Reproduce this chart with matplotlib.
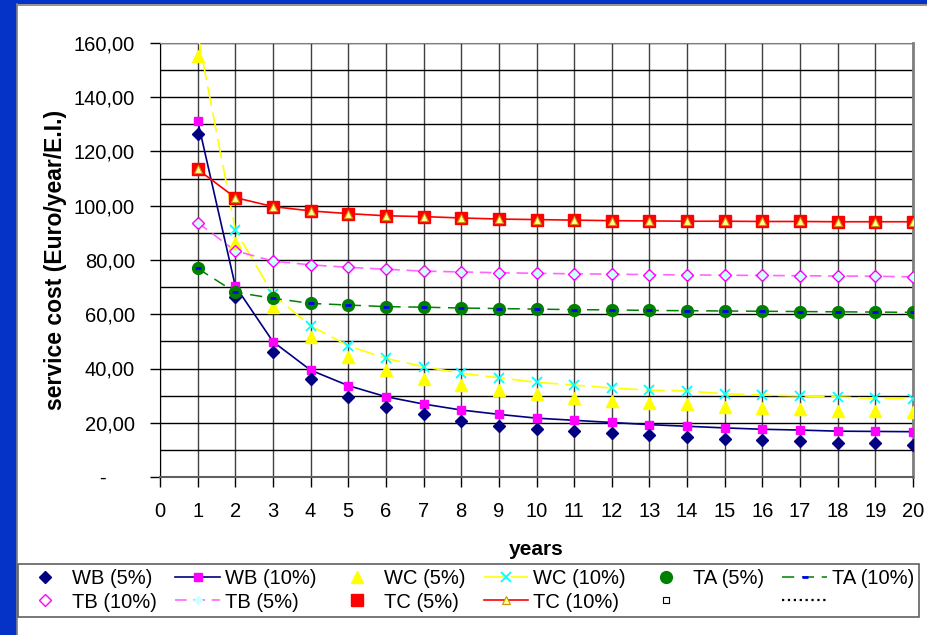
import matplotlib
matplotlib.use("Agg")
import matplotlib.pyplot as plt
from matplotlib.patches import Rectangle
from matplotlib.ticker import FuncFormatter, MultipleLocator

plt.rcParams['font.family'] = ['Liberation Sans', 'DejaVu Sans']

# data
years = list(range(1, 21))
wb5 = [126.6, 66.2, 46.0, 36.0, 29.6, 25.9, 23.2, 20.8, 18.9, 17.7,
       17.0, 16.1, 15.4, 14.6, 14.1, 13.6, 13.1, 12.7, 12.4, 11.9]
wb10 = [131.4, 70.4, 49.9, 39.4, 33.7, 29.6, 26.9, 24.7, 23.1, 21.7,
        20.9, 20.1, 19.3, 18.7, 18.1, 17.6, 17.3, 16.9, 16.8, 16.7]
wc5 = [155.2, 86.4, 62.6, 51.5, 44.4, 39.4, 36.0, 33.9, 32.1, 30.5,
       29.2, 28.1, 27.2, 26.8, 25.9, 25.4, 25.0, 24.5, 24.3, 23.8]
wc10 = [163.3, 91.1, 67.3, 55.7, 48.4, 43.7, 40.7, 38.2, 36.6, 34.9,
        33.9, 32.8, 32.0, 31.7, 30.7, 30.2, 29.9, 29.5, 29.0, 28.9]
ta5 = [76.9, 68.1, 65.9, 64.0, 63.4, 62.8, 62.6, 62.3, 62.1, 61.9,
       61.7, 61.6, 61.4, 61.3, 61.2, 61.1, 61.0, 60.9, 60.8, 60.7]
ta10 = [76.9, 68.1, 65.9, 64.0, 63.4, 62.8, 62.6, 62.3, 62.1, 61.9,
        61.7, 61.6, 61.4, 61.3, 61.2, 61.1, 61.0, 60.9, 60.8, 60.7]
tb10 = [93.8, 83.4, 79.6, 78.2, 77.3, 76.6, 75.9, 75.6, 75.3, 75.1,
        74.9, 74.8, 74.6, 74.5, 74.4, 74.3, 74.2, 74.1, 74.0, 73.8]
tb5 = [93.8, 83.4, 79.6, 78.2, 77.3, 76.6, 75.9, 75.6, 75.3, 75.1,
       74.9, 74.8, 74.6, 74.5, 74.4, 74.3, 74.2, 74.1, 74.0, 73.8]
tc5 = [113.4, 103.0, 99.7, 98.1, 97.1, 96.3, 96.0, 95.5, 95.1, 94.9,
       94.7, 94.5, 94.4, 94.3, 94.3, 94.2, 94.2, 94.1, 94.1, 94.1]
tc10 = [113.4, 103.0, 99.7, 98.1, 97.1, 96.3, 96.0, 95.5, 95.1, 94.9,
        94.7, 94.5, 94.4, 94.3, 94.3, 94.2, 94.2, 94.1, 94.1, 94.1]

W, H = 928, 635
fig = plt.figure(figsize=(W / 100, H / 100), dpi=100)

# blue frame strips on the left and top
blue = '#0533C8'
fig.patches.append(Rectangle((0, 0), 17 / W, 1, transform=fig.transFigure,
                             facecolor=blue, edgecolor='none', zorder=0))
fig.patches.append(Rectangle((0, 1 - 4 / H), 1, 4 / H, transform=fig.transFigure,
                             facecolor=blue, edgecolor='none', zorder=0))
fig.add_artist(plt.Line2D([17 / W, 17 / W], [0, 1 - 4 / H], transform=fig.transFigure,
                          color='#808080', lw=1.2))
fig.add_artist(plt.Line2D([17 / W, 1], [1 - 5 / H, 1 - 5 / H], transform=fig.transFigure,
                          color='#808080', lw=1.2))

ax = fig.add_axes([160 / W, 1 - 477 / H, (913 - 160) / W, (477 - 43) / H])

# 5% series: markers only; 10% series: line + small markers
h_wb5, = ax.plot(years, wb5, ls='none', marker='D', ms=6.5, color='#000080', zorder=5)
h_wb10, = ax.plot(years, wb10, ls='-', lw=1.2, color='#000080', marker='s', ms=5.5,
                  mfc='#FF00FF', mec='#FF00FF', zorder=4)
h_wc5, = ax.plot(years, wc5, ls='none', marker='^', ms=9, color='#FFFF00', zorder=5)
h_wc10, = ax.plot(years, wc10, ls=(0, (12, 4)), lw=1.2, color='#FFFF00', marker='x', ms=7,
                  mec='#00FFFF', mew=1.3, zorder=4)
h_ta5, = ax.plot(years, ta5, ls='none', marker='o', ms=8.5, color='#008000', zorder=5)
h_ta10, = ax.plot(years, ta10, ls=(0, (8, 5)), lw=1.1, color='#008000', marker='_', ms=4,
                  mec='#0000FF', mew=2, zorder=6)
h_tb10, = ax.plot(years, tb10, ls='none', marker='D', ms=6.5, mfc='none', mec='#FF00FF',
                  mew=1, zorder=5)
h_tb5, = ax.plot(years, tb5, ls=(0, (7, 4)), lw=1.2, color='#FF66FF', marker='D', ms=4.5,
                 mfc='#CCFFFF', mec='#CCFFFF', zorder=4)
h_tc5, = ax.plot(years, tc5, ls='none', marker='s', ms=8, color='#FF0000', zorder=5)
h_tc10, = ax.plot(years, tc10, ls='-', lw=1.2, color='#FF0000', marker='^', ms=6,
                  mfc='#FFFF99', mec='#C89600', mew=0.8, zorder=6)
h_empty1, = ax.plot([], [], ls='none', marker='s', ms=4, mfc='white', mec='black', mew=0.8)
h_empty2, = ax.plot([], [], ls=':', lw=1.6, color='black')

ax.set_xlim(0, 20)
ax.set_ylim(0, 160)
ax.set_xticks(range(0, 21))
ax.yaxis.set_major_locator(MultipleLocator(20))
ax.yaxis.set_minor_locator(MultipleLocator(10))
ax.yaxis.set_major_formatter(FuncFormatter(
    lambda v, p: '-     ' if v == 0 else f'{v:.2f}'.replace('.', ',')))

ax.grid(True, which='major', axis='x', color='#404040', lw=1)
ax.grid(True, which='both', axis='y', color='black', lw=1)
ax.set_axisbelow(True)
ax.tick_params(axis='both', which='major', direction='out', length=7, width=1,
               labelsize=14.5, pad=11, color='black')
ax.tick_params(axis='y', which='minor', length=0)

ax.spines['left'].set_color('black')
ax.spines['bottom'].set_color('#606060')
ax.spines['bottom'].set_linewidth(1.5)
ax.spines['top'].set_color('#808080')
ax.spines['right'].set_color('#808080')
ax.spines['right'].set_linewidth(2)

ax.set_ylabel('service cost (Euro/year/E.I.)', fontsize=16.5, fontweight='bold', labelpad=5)
ax.set_xlabel('years', fontsize=15, fontweight='bold', labelpad=14)

# legend fills column-wise, so interleave the two rows
handles = [h_wb5, h_tb10, h_wb10, h_tb5, h_wc5, h_tc5,
           h_wc10, h_tc10, h_ta5, h_empty1, h_ta10, h_empty2]
labels = ['WB (5%)', 'TB (10%)', 'WB (10%)', 'TB (5%)', 'WC (5%)', 'TC (5%)',
          'WC (10%)', 'TC (10%)', 'TA (5%)', '', 'TA (10%)', '']
leg = fig.legend(handles, labels, ncol=6, mode='expand', loc='center',
                 bbox_to_anchor=(18 / W, 1 - 617 / H, 901 / W, 53 / H),
                 borderaxespad=0, fancybox=False, framealpha=1, edgecolor='#606060',
                 fontsize=14.5, handlelength=2.2, handletextpad=0.25,
                 labelspacing=0.2, borderpad=0.25)
leg.get_frame().set_linewidth(1.2)

fig.savefig('out.png', dpi=100)
